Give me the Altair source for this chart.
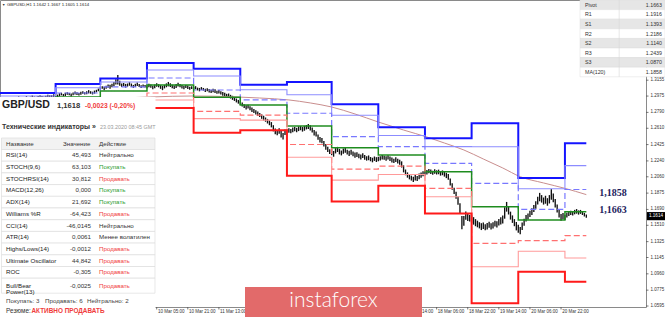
import altair as alt
import pandas as pd

# ---------------- data ----------------
# daily pivot levels (bar index of first H1 bar of each trading day, 0 = 10 Mar 00:00)
day_start = [-76, -47, -24, 0, 24, 48, 72, 95, 119, 143, 167, 191, 215]
last_bar = 226
R3 = [1.3010, 1.3112, 1.3175, 1.3350, 1.3286, 1.3103, 1.3134, 1.2883, 1.2622, 1.2497, 1.2666, 1.2045, 1.2439]
R2 = [1.2975, 1.3070, 1.3135, 1.3271, 1.3203, 1.3046, 1.2990, 1.2758, 1.2528, 1.2402, 1.2401, 1.1924, 1.2186]
R1 = [1.2935, 1.3010, 1.3080, 1.3180, 1.3044, 1.2931, 1.2780, 1.2515, 1.2401, 1.2213, 1.1986, 1.1691, 1.1916]
PP = [1.2880, 1.2965, 1.3032, 1.3101, 1.2961, 1.2874, 1.2636, 1.2390, 1.2307, 1.2118, 1.1721, 1.1570, 1.1663]
S1 = [1.2810, 1.2890, 1.2953, 1.3010, 1.2802, 1.2759, 1.2426, 1.2147, 1.2180, 1.1929, 1.1306, 1.1337, 1.1393]
S2 = [1.2760, 1.2845, 1.2896, 1.2931, 1.2719, 1.2702, 1.2282, 1.2022, 1.2086, 1.1834, 1.1041, 1.1216, 1.1140]
S3 = [1.2690, 1.2770, 1.2817, 1.2840, 1.2560, 1.2587, 1.2072, 1.1779, 1.1959, 1.1645, 1.0626, 1.0983, 1.0870]

# moving average MA(120) read at several bars
ma_bar = [-76, -24, 2, 24, 43, 58, 73, 84, 95, 107, 119, 132, 144, 153, 163, 173, 183, 192, 204, 215, 226]
ma_val = [1.2885, 1.2942, 1.2965, 1.2976, 1.2968, 1.2953, 1.2931, 1.2897, 1.2851, 1.2772, 1.2681,
          1.2590, 1.2511, 1.2443, 1.2364, 1.2262, 1.2160, 1.2061, 1.1990, 1.1929, 1.1858]

# H1 bars: mid price and high-low range (pips), per day
first_bar = -76
mid_mar05 = [1.2925, 1.2933, 1.2920, 1.2928, 1.2938, 1.2930, 1.2942, 1.2948, 1.2936, 1.2944, 1.2955, 1.2949, 1.2941, 1.2952, 1.2958,
             1.2950, 1.2956, 1.2966, 1.2958, 1.2951, 1.2962, 1.2970, 1.2962, 1.2955, 1.2966, 1.2975, 1.2968, 1.2972, 1.2980]
rng_mar05 = [30, 25, 35, 28, 22, 30, 26, 34, 28, 24, 32, 27, 30, 25, 33, 29, 24, 31, 27, 35, 26, 30, 28, 33, 25, 29, 31, 27, 30]
mid_mar06 = [1.2985, 1.2978, 1.2990, 1.2998, 1.2986, 1.2994, 1.3004, 1.2997, 1.2988, 1.3000, 1.3010, 1.3004, 1.2996, 1.3008,
             1.3016, 1.3006, 1.3013, 1.3024, 1.3016, 1.3009, 1.3020, 1.3032, 1.3045]
rng_mar06 = [32, 28, 35, 30, 26, 38, 30, 27, 33, 29, 36, 31, 28, 34, 30, 26, 32, 37, 29, 31, 35, 28, 30]
mid_mar09 = [1.3064, 1.3072, 1.3060, 1.3075, 1.3088, 1.3080, 1.3095, 1.3110, 1.3135, 1.3160, 1.3120, 1.3098, 1.3105, 1.3092,
             1.3100, 1.3112, 1.3098, 1.3085, 1.3096, 1.3108, 1.3094, 1.3082, 1.3090, 1.3086]
rng_mar09 = [35, 30, 40, 33, 38, 45, 42, 50, 60, 110, 55, 40, 36, 42, 35, 40, 38, 33, 36, 40, 34, 30, 32, 28]
mid_mar10 = [1.3080, 1.3095, 1.3088, 1.3072, 1.3085, 1.3100, 1.3092, 1.3078, 1.3066, 1.3082, 1.3097, 1.3110, 1.3098, 1.3084,
             1.3075, 1.3090, 1.3104, 1.3093, 1.3080, 1.3071, 1.3083, 1.3076, 1.3064, 1.3070]
rng_mar10 = [38, 42, 35, 40, 45, 38, 36, 42, 48, 40, 44, 50, 42, 38, 40, 45, 42, 36, 40, 38, 35, 40, 34, 32]
mid_mar11 = [1.3062, 1.3070, 1.3055, 1.3048, 1.3060, 1.3052, 1.3040, 1.3046, 1.3035, 1.3028, 1.3038, 1.3030, 1.3018, 1.3024,
             1.3012, 1.3000, 1.2992, 1.2978, 1.2985, 1.2968, 1.2955, 1.2940, 1.2925, 1.2910]
rng_mar11 = [30, 35, 32, 38, 34, 30, 36, 33, 40, 35, 38, 42, 36, 40, 38, 44, 40, 45, 38, 42, 46, 40, 44, 42]
mid_mar12 = [1.2895, 1.2880, 1.2862, 1.2848, 1.2855, 1.2838, 1.2820, 1.2806, 1.2790, 1.2775, 1.2760, 1.2742, 1.2725, 1.2708,
             1.2690, 1.2672, 1.2650, 1.2610, 1.2575, 1.2560, 1.2580, 1.2545, 1.2520, 1.2565]
rng_mar12 = [40, 45, 42, 48, 44, 46, 50, 45, 48, 52, 46, 50, 54, 48, 52, 55, 60, 70, 65, 58, 62, 80, 75, 60]
mid_mar13 = [1.2570, 1.2585, 1.2578, 1.2592, 1.2600, 1.2590, 1.2605, 1.2612, 1.2598, 1.2610, 1.2622, 1.2630, 1.2615, 1.2590,
             1.2560, 1.2545, 1.2510, 1.2480, 1.2470, 1.2435, 1.2400, 1.2370, 1.2345]
rng_mar13 = [55, 50, 48, 52, 46, 50, 54, 48, 52, 56, 50, 54, 60, 58, 62, 55, 60, 64, 58, 62, 66, 60, 56]
mid_mar16 = [1.2340, 1.2320, 1.2355, 1.2370, 1.2345, 1.2330, 1.2350, 1.2362, 1.2340, 1.2325, 1.2338, 1.2320, 1.2305, 1.2312,
             1.2295, 1.2285, 1.2300, 1.2280, 1.2268, 1.2275, 1.2260, 1.2250, 1.2265, 1.2255]
rng_mar16 = [70, 65, 60, 58, 62, 55, 60, 58, 54, 60, 56, 52, 58, 54, 50, 56, 52, 55, 50, 54, 48, 52, 50, 55]
mid_mar17 = [1.2262, 1.2270, 1.2282, 1.2275, 1.2268, 1.2280, 1.2265, 1.2250, 1.2240, 1.2255, 1.2238, 1.2225, 1.2200, 1.2150,
             1.2110, 1.2080, 1.2060, 1.2045, 1.2030, 1.2050, 1.2040, 1.2065, 1.2080, 1.2095]
rng_mar17 = [50, 48, 52, 46, 50, 48, 52, 55, 50, 54, 52, 56, 70, 80, 65, 60, 58, 55, 60, 62, 58, 64, 60, 56]
mid_mar18 = [1.2100, 1.2112, 1.2125, 1.2118, 1.2105, 1.2120, 1.2110, 1.2115, 1.2098, 1.2105, 1.2090, 1.2075, 1.2060, 1.2000,
             1.1950, 1.1900, 1.1850, 1.1790, 1.1700, 1.1540, 1.1560, 1.1620, 1.1600, 1.1590]
rng_mar18 = [55, 50, 48, 52, 46, 50, 48, 52, 50, 54, 56, 60, 65, 80, 75, 70, 80, 95, 120, 150, 110, 95, 80, 75]
mid_mar19 = [1.1580, 1.1560, 1.1540, 1.1525, 1.1510, 1.1495, 1.1505, 1.1488, 1.1500, 1.1515, 1.1498, 1.1510, 1.1530, 1.1520,
             1.1545, 1.1560, 1.1575, 1.1650, 1.1720, 1.1680, 1.1620, 1.1580, 1.1540, 1.1500]
rng_mar19 = [90, 85, 80, 75, 70, 78, 72, 70, 75, 68, 72, 70, 65, 70, 75, 80, 90, 130, 110, 95, 90, 85, 80, 95]
mid_mar20 = [1.1470, 1.1450, 1.1500, 1.1545, 1.1590, 1.1610, 1.1640, 1.1665, 1.1700, 1.1740, 1.1790, 1.1830, 1.1810, 1.1785,
             1.1800, 1.1775, 1.1805, 1.1860, 1.1820, 1.1760, 1.1700, 1.1640, 1.1600, 1.1615]
rng_mar20 = [90, 80, 85, 80, 75, 70, 72, 75, 80, 85, 90, 95, 85, 80, 90, 85, 95, 120, 100, 95, 90, 85, 75, 70]
mid_mar23 = [1.1600, 1.1625, 1.1640, 1.1650, 1.1645, 1.1660, 1.1668, 1.1655, 1.1662, 1.1648, 1.1630, 1.1614]
rng_mar23 = [60, 55, 50, 48, 45, 50, 52, 48, 45, 42, 40, 38]

current_price = [1.1614]
current_text = ["1.1614"]
ann_price = [1.1858, 1.1663]
ann_text = ["1,1858", "1,1663"]

# time-axis labels left visible around the brand banner (the others are hidden behind it)
x_tick_bars = [5, 21, 37, 133, 149, 165, 181, 197, 213]
x_tick_labels = ["10 Mar 05:00", "10 Mar 21:00", "11 Mar 13:00", "17 Mar 14:00", "18 Mar 06:00",
                 "18 Mar 22:00", "19 Mar 14:00", "20 Mar 06:00", "20 Mar 22:00"]
y_tick_vals = [1.0595, 1.0775, 1.0960, 1.1145, 1.1325, 1.1510, 1.1690, 1.1875, 1.2060, 1.2240, 1.2425,
               1.2610, 1.2790, 1.2975, 1.3155]

header_text = "GBPUSD,H1  1.1642 1.1667 1.1605 1.1614"
pair_name = "GBP/USD"
pair_price = "1,1618"
pair_change = "-0,0023 (-0,20%)"
ti_title = "Технические индикаторы »"
ti_date = "23.03.2020 08:45 GMT"
col_heads = ["Название", "Значение", "Действие"]
ind_names = ["RSI(14)", "STOCH(9,6)", "STOCHRSI(14)", "MACD(12,26)", "ADX(14)", "Williams %R", "CCI(14)",
             "ATR(14)", "Highs/Lows(14)", "Ultimate Oscillator", "ROC", "Bull/Bear\nPower(13)"]
ind_values = ["45,493", "63,103", "30,812", "0,000", "21,692", "-64,423", "-46,0145", "0,0061", "-0,0012",
              "44,842", "-0,305", "-0,0025"]
ind_actions = ["Нейтрально", "Покупать", "Продавать", "Покупать", "Покупать", "Продавать", "Нейтрально",
               "Менее волатилен", "Продавать", "Продавать", "Продавать", "Продавать"]
summary_counts = ["Покупать: 3", "Продавать: 6", "Нейтрально: 2"]
summary_label = "Резюме:"
summary_value = "АКТИВНО ПРОДАВАТЬ"
piv_names = ["Pivot", "R1", "S1", "R2", "S2", "R3", "S3", "MA(120)"]
piv_values = ["1.1663", "1.1916", "1.1393", "1.2186", "1.1140", "1.2439", "1.0870", "1.1858"]
brand = "instaforex"

# ---------------- frames ----------------
mids = (mid_mar05 + mid_mar06 + mid_mar09 + mid_mar10 + mid_mar11 + mid_mar12 + mid_mar13 +
        mid_mar16 + mid_mar17 + mid_mar18 + mid_mar19 + mid_mar20 + mid_mar23)
rngs = (rng_mar05 + rng_mar06 + rng_mar09 + rng_mar10 + rng_mar11 + rng_mar12 + rng_mar13 +
        rng_mar16 + rng_mar17 + rng_mar18 + rng_mar19 + rng_mar20 + rng_mar23)
candles = pd.DataFrame({"bar": list(range(first_bar, first_bar + len(mids))), "mid": mids, "rng": rngs})
candles["low"] = candles["mid"] - candles["rng"] * 0.00005
candles["high"] = candles["mid"] + candles["rng"] * 0.00005

XD = [-75.6, 256.7]
YD = [1.0584, 1.4064]
xs = alt.Scale(domain=XD, nice=False, zero=False)
ys = alt.Scale(domain=YD, nice=False, zero=False)


def X(field):
    return alt.X(field, scale=xs, axis=None)


def Y(field):
    return alt.Y(field, scale=ys, axis=None)


candle_layer = alt.Chart(candles).mark_rule(color="#111111", strokeWidth=1.35).encode(
    x=X("bar:Q"), y=Y("low:Q"), y2="high:Q")

level_styles = [
    ("R3", R3, "#1414ff", 2.0, [1, 0]),
    ("R2", R2, "#8c8cff", 1.1, [1, 0]),
    ("R1", R1, "#7878ff", 1.2, [6, 3]),
    ("PP", PP, "#1e8c1e", 1.5, [1, 0]),
    ("S1", S1, "#ff7070", 1.2, [6, 3]),
    ("S2", S2, "#ff9a9a", 1.1, [1, 0]),
    ("S3", S3, "#ff1a1a", 2.0, [1, 0]),
]
pivot_layers = []
for name, vals, col, sw, dash in level_styles:
    df = pd.DataFrame({"bar": day_start + [last_bar], "val": vals + [vals[-1]]})
    pivot_layers.append(
        alt.Chart(df).mark_line(interpolate="step-after", color=col, strokeWidth=sw, strokeDash=dash).encode(
            x=X("bar:Q"), y=Y("val:Q"))
    )

ma_layer = alt.Chart(pd.DataFrame({"bar": ma_bar, "val": ma_val})).mark_line(
    interpolate="monotone", color="#c98e8e", strokeWidth=1.0).encode(x=X("bar:Q"), y=Y("val:Q"))

# axes drawn as marks on the shared scales
xt_df = pd.DataFrame({"bar": x_tick_bars, "lab": x_tick_labels})
x_ticks = alt.Chart(xt_df).mark_rule(color="#555555", strokeWidth=0.8).encode(
    x=X("bar:Q"), y=alt.value(307), y2=alt.value(309.5))
x_labels = alt.Chart(xt_df).mark_text(align="left", baseline="middle", dx=1.2, fontSize=4.5,
                                      color="#333333", font="Liberation Sans").encode(
    x=X("bar:Q"), y=alt.value(312.3), text="lab:N")
yt_df = pd.DataFrame({"val": y_tick_vals})
y_ticks = alt.Chart(yt_df).mark_rule(color="#555555", strokeWidth=0.8).encode(
    y=Y("val:Q"), x=alt.value(646), x2=alt.value(648.5))
y_labels = alt.Chart(yt_df).mark_text(align="left", baseline="middle", fontSize=4.5, color="#333333",
                                      font="Liberation Sans").encode(
    y=Y("val:Q"), x=alt.value(650.5), text=alt.Text("val:Q", format=".4f"))

ann_layer = alt.Chart(pd.DataFrame({"p": ann_price, "t": ann_text})).mark_text(
    font="Liberation Serif", fontWeight="bold", fontSize=10, color="#1c1c5c", align="center", dy=-2).encode(
    x=alt.value(613), y=Y("p:Q"), text="t:N")

cur_df = pd.DataFrame({"p": current_price, "t": current_text})
cur_box = alt.Chart(cur_df).mark_point(shape="M-1,-0.45L1,-0.45L1,0.45L-1,0.45Z", size=330, filled=True,
                                       color="#000000", opacity=1).encode(x=alt.value(656), y=Y("p:Q"))
cur_txt = alt.Chart(cur_df).mark_text(fontSize=4.6, color="#ffffff", align="center", font="Liberation Sans").encode(
    x=alt.value(656), y=Y("p:Q"), text="t:N")


# ---------------- overlay helpers ----------------
def rects(rows, stroke=None, sw=0.0):
    df = pd.DataFrame(rows, columns=["x0", "x1", "y0", "y1", "col"])
    kw = {}
    if stroke:
        kw = dict(stroke=stroke, strokeWidth=sw)
    return alt.Chart(df).mark_rect(**kw).encode(
        x=alt.X("x0:Q", scale=None, axis=None), x2="x1:Q",
        y=alt.Y("y0:Q", scale=None, axis=None), y2="y1:Q",
        color=alt.Color("col:N", scale=None))


def texts(rows, align="left", weight="normal", font="Liberation Sans", baseline="middle", line_break=None):
    df = pd.DataFrame(rows, columns=["px", "py", "txt", "col", "fs"])
    kw = dict(align=align, fontWeight=weight, font=font, baseline=baseline)
    if line_break:
        kw.update(lineBreak=line_break, lineHeight=6.6)
    return alt.Chart(df).mark_text(**kw).encode(
        x=alt.X("px:Q", scale=None, axis=None), y=alt.Y("py:Q", scale=None, axis=None),
        text="txt:N", color=alt.Color("col:N", scale=None), size=alt.Size("fs:Q", scale=None))


DARK = "#333333"
GREEN = "#2f9e2f"
RED = "#f03c3c"
act_col = {"Покупать": GREEN, "Продавать": RED}

# left indicator panel
panel_bg = rects([(0, 155.5, 97, 317, "#ffffff")])
hdr_top, hdr_h = 138.0, 11.5
row_h = [11.7] * (len(ind_names) - 1) + [15.0]
tops = []
t = hdr_top + hdr_h
for h in row_h:
    tops.append(t)
    t += h
table_rows = [(1.5, 155, hdr_top, hdr_top + hdr_h, "#f2f2f2")] + [
    (1.5, 155, tp, tp + h, "#ffffff") for tp, h in zip(tops, row_h)]
table_layer = rects(table_rows, stroke="#d9d9d9", sw=0.6)
centers = [tp + h / 2 for tp, h in zip(tops, row_h)]
hc = hdr_top + hdr_h / 2

name_rows = [(6, c, n, "#222222", 6.2) for n, c in zip(ind_names, centers)]
val_rows = [(91, c, v, DARK, 6.2) for v, c in zip(ind_values, centers)]
act_rows = [(99, c, a, act_col.get(a, DARK), 6.2) for a, c in zip(ind_actions, centers)]
head_rows = [(6, hc, col_heads[0], DARK, 6.2), (63, hc, col_heads[1], DARK, 6.2), (99, hc, col_heads[2], DARK, 6.2)]

panel_texts = [
    texts([(2, 105, pair_name, "#222222", 10.5)], weight="bold"),
    texts([(57, 105.5, pair_price, "#333333", 7.6)], weight="bold"),
    texts([(85, 105.5, pair_change, RED, 6.7)], weight="bold"),
    texts([(2, 127, ti_title, "#333333", 7.0)], weight="bold"),
    texts([(100, 127, ti_date, "#9a9a9a", 5.4)]),
    texts(head_rows),
    texts(name_rows, line_break="\n"),
    texts(val_rows, align="right"),
    texts(act_rows),
    texts([(6, 300.7, summary_counts[0], "#444444", 6.2), (45, 300.7, summary_counts[1], "#444444", 6.2),
           (87, 300.7, summary_counts[2], "#444444", 6.2)]),
    texts([(6, 310.5, summary_label, "#333333", 6.4)]),
    texts([(31.5, 310.5, summary_value, RED, 6.4)], weight="bold"),
]

# pivot table (top right)
pr_h = 9.6
piv_rect_rows = [(580, 665, i * pr_h, (i + 1) * pr_h, "#e6e6e6" if i % 2 == 0 else "#ffffff")
                 for i in range(len(piv_names))]
piv_rects = rects(piv_rect_rows, stroke="#dcdcdc", sw=0.5)
piv_div = rects([(618.8, 619.4, 0, len(piv_names) * pr_h, "#d6d6d6")])
piv_name_t = texts([(585, (i + 0.5) * pr_h, n, DARK, 5.3) for i, n in enumerate(piv_names)])
piv_val_t = texts([(662, (i + 0.5) * pr_h, v, DARK, 5.3) for i, v in enumerate(piv_values)], align="right")

# brand banner
banner = rects([(245, 422, 287, 317, "#e26a6a")])
banner_t = texts([(333.5, 307, brand, "#ffffff", 21)], align="center", font="Lato", weight=300,
                 baseline="alphabetic")

# chart header
head_t = texts([(2, 4.5, "▼", "#333333", 3.4), (7, 4.5, header_text, "#222222", 4.3)])

chart = alt.layer(
    candle_layer, ma_layer, *pivot_layers, ann_layer, x_ticks, x_labels, y_ticks, y_labels, cur_box, cur_txt,
    panel_bg, table_layer, *panel_texts,
    piv_rects, piv_div, piv_name_t, piv_val_t,
    banner, banner_t, head_t,
).properties(
    width=646, height=307,
    autosize=alt.AutoSizeParams(type="none"),
    padding={"left": 0, "top": 0, "right": 19, "bottom": 10},
).configure_view(stroke="#8a8a8a", strokeWidth=1)

chart.save("out.html", embed_options={"renderer": "svg", "actions": False})
